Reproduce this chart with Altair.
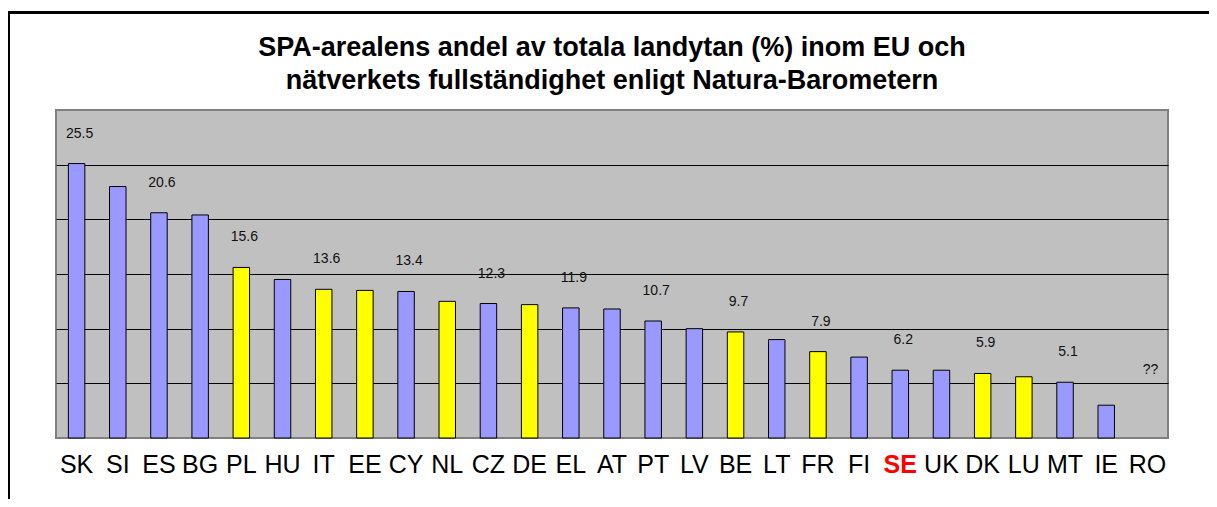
import altair as alt
import pandas as pd

countries = ["SK", "SI", "ES", "BG", "PL", "HU", "IT", "EE", "CY", "NL", "CZ", "DE", "EL", "AT",
             "PT", "LV", "BE", "LT", "FR", "FI", "SE", "UK", "DK", "LU", "MT", "IE", "RO"]
values = [25.1, 23.0, 20.6, 20.4, 15.6, 14.5, 13.6, 13.5, 13.4, 12.5, 12.3, 12.2, 11.9, 11.8,
          10.7, 10.0, 9.7, 9.0, 7.9, 7.4, 6.2, 6.2, 5.9, 5.6, 5.1, 3.0, None]
complete = ["no", "no", "no", "no", "yes", "no", "yes", "yes", "no", "yes", "no", "yes", "no", "no",
            "no", "no", "yes", "no", "yes", "no", "no", "no", "yes", "yes", "no", "no", "no"]
labels = ["25.5", "", "20.6", "", "15.6", "", "13.6", "", "13.4", "", "12.3", "", "11.9", "",
          "10.7", "", "9.7", "", "7.9", "", "6.2", "", "5.9", "", "5.1", "", "??"]

df = pd.DataFrame({"country": countries, "value": values, "complete": complete, "label": labels})

W, H = 1112, 328
FONT = "Liberation Sans"

xenc = alt.X("country:N", sort=countries,
             scale=alt.Scale(paddingInner=0.6),
             axis=alt.Axis(title=None, ticks=False, domain=False, labelAngle=0,
                           labelFontSize=25, labelFont=FONT, labelPadding=14,
                           labelColor=alt.condition("datum.value == 'SE'", alt.value("#ff0000"), alt.value("#000000")),
                           labelFontWeight=alt.condition("datum.value == 'SE'", alt.value("bold"), alt.value("normal"))))
yscale = alt.Scale(domain=[0, 30], nice=False)

frame = alt.Chart(df).mark_rect(fill=None, stroke="#000000", strokeWidth=1.5).encode(
    x=alt.value(-47.5), x2=alt.value(W + 200), y=alt.value(-97.5), y2=alt.value(H + 200)
)

bars = alt.Chart(df).mark_bar(stroke="#000000", strokeWidth=1).encode(
    x=xenc,
    y=alt.Y("value:Q", scale=yscale,
            axis=alt.Axis(title=None, labels=False, ticks=False, domain=False,
                          values=[5, 10, 15, 20, 25], grid=True, gridColor="#000000", gridWidth=1)),
    color=alt.Color("complete:N", scale=alt.Scale(domain=["no", "yes"], range=["#9999ff", "#ffff00"]), legend=None),
)

text = alt.Chart(df).transform_filter("datum.label != ''").transform_calculate(
    base="isValid(datum.value) ? datum.value : 3.5"
).mark_text(fontSize=14, font=FONT, color="#111111", baseline="middle", dy=-30, dx=3).encode(
    x=alt.X("country:N", sort=countries),
    y=alt.Y("base:Q", scale=yscale),
    text="label:N",
)

chart = alt.layer(frame, bars, text).properties(
    width=W, height=H,
    title=alt.TitleParams(
        ["SPA-arealens andel av totala landytan (%) inom EU och",
         "nätverkets fullständighet enligt Natura-Barometern"],
        font=FONT, fontSize=27, fontWeight="bold", color="#000000",
        anchor="middle", lineHeight=33, offset=12, dy=95),
    autosize=alt.AutoSizeParams(type="none"),
    padding={"left": 48, "top": 102, "right": 41, "bottom": 61},
    background="#ffffff",
).configure_view(fill="#c0c0c0", stroke="#808080", strokeWidth=2)

chart.save("out.html", embed_options={"renderer": "svg", "actions": False})
